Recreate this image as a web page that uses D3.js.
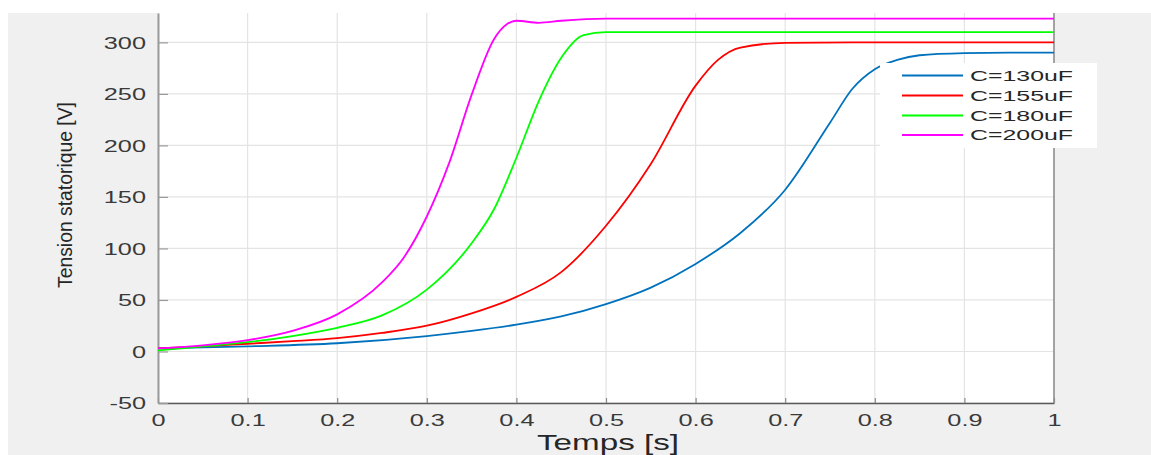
<!DOCTYPE html>
<html>
<head>
<meta charset="utf-8">
<script src="https://cdn.jsdelivr.net/npm/d3@7"></script>
<style>
  html, body { margin: 0; padding: 0; background: #ffffff; }
  svg { display: block; }
  text { font-family: "Liberation Sans", Arial, Helvetica, sans-serif; }
</style>
</head>
<body>
<svg id="chart" width="1151" height="455"></svg>
<script>
// ---------------- DATA ----------------
const seriesNames = ["C=130uF", "C=155uF", "C=180uF", "C=200uF"];
const seriesColors = ["#0072BD", "#FF0000", "#00FF00", "#FF00FF"];

const t130 = [0, 0.1, 0.2, 0.3, 0.35, 0.4, 0.45, 0.5, 0.55, 0.6, 0.65, 0.7, 0.75, 0.775, 0.8, 0.825, 0.85, 0.9, 0.95, 1.0];
const v130 = [3, 5, 8, 15, 20, 26, 34, 46, 62, 85, 115, 157, 222, 255, 274, 283, 287.5, 289.5, 290, 290];

const t155 = [0, 0.05, 0.1, 0.15, 0.2, 0.25, 0.3, 0.35, 0.4, 0.45, 0.5, 0.55, 0.6, 0.625, 0.65, 0.7, 0.8, 1.0];
const v155 = [3, 5, 7.5, 10, 13, 18, 25, 37, 53, 77, 122, 182, 258, 283, 295, 299.5, 300, 300];

const t180 = [0, 0.05, 0.1, 0.15, 0.2, 0.25, 0.3, 0.35, 0.375, 0.4, 0.425, 0.45, 0.475, 0.5, 1.0];
const v180 = [1, 5, 9, 15, 23, 35, 60, 105, 138, 188, 243, 285, 307, 310, 310];

const t200 = [0, 0.05, 0.1, 0.15, 0.2, 0.25, 0.275, 0.3, 0.325, 0.35, 0.375, 0.39, 0.4, 0.425, 0.45, 0.5, 1.0];
const v200 = [3, 6, 11, 20, 36, 67, 92, 131, 183, 249, 303, 318, 321, 319, 321, 323, 323];

const xTickValues = [0, 0.1, 0.2, 0.3, 0.4, 0.5, 0.6, 0.7, 0.8, 0.9, 1];
const yTickValues = [-50, 0, 50, 100, 150, 200, 250, 300];

const xLabel = "Temps [s]";
const yLabel = "Tension statorique [V]";

const allT = [t130, t155, t180, t200];
const allV = [v130, v155, v180, v200];

// ---------------- LAYOUT ----------------
const svg = d3.select("#chart");
const L = 158, R = 1054, T = 13, B = 403;

svg.append("rect").attr("x", 8).attr("y", 13).attr("width", 1151 - 8).attr("height", 455 - 13).attr("fill", "#f0f0f0");
svg.append("rect").attr("x", L).attr("y", T).attr("width", R - L).attr("height", B - T).attr("fill", "#ffffff");

const x = d3.scaleLinear().domain([0, 1]).range([L, R]);
const y = d3.scaleLinear().domain([-50, 328.5]).range([B, T]);

// grid
const grid = svg.append("g");
grid.selectAll("line.gx").data(xTickValues).join("line")
  .attr("x1", d => x(d)).attr("x2", d => x(d)).attr("y1", T).attr("y2", B)
  .attr("stroke", "#e4e4e4").attr("stroke-width", 1.2);
grid.selectAll("line.gy").data(yTickValues).join("line")
  .attr("x1", L).attr("x2", R).attr("y1", d => y(d)).attr("y2", d => y(d))
  .attr("stroke", "#e4e4e4").attr("stroke-width", 1.2);

// axes
const fmtX = d => (d === 0 ? "0" : d === 1 ? "1" : d.toFixed(1));
const fmtY = d => String(d);

const xAxis = svg.append("g").attr("transform", `translate(0,${B})`)
  .call(d3.axisBottom(x).tickValues(xTickValues).tickFormat(fmtX).tickSizeInner(-5).tickSizeOuter(0).tickPadding(0));
const yAxis = svg.append("g").attr("transform", `translate(${L},0)`)
  .call(d3.axisLeft(y).tickValues(yTickValues).tickFormat(fmtY).tickSizeInner(-10).tickSizeOuter(0).tickPadding(12));

xAxis.select(".domain").attr("stroke", "#5a5a5a").attr("stroke-width", 1.5);
yAxis.select(".domain").attr("stroke", "#9a9a9a").attr("stroke-width", 2);
xAxis.selectAll(".tick line").attr("stroke", "#8a8a8a").attr("stroke-width", 1.2);
yAxis.selectAll(".tick line").attr("stroke", "#9a9a9a").attr("stroke-width", 1.2);

xAxis.selectAll(".tick text")
  .attr("font-size", 16).attr("fill", "#3a3a3a").attr("y", 23).attr("dy", null)
  .style("font-family", "'Liberation Sans', Arial, sans-serif");
yAxis.selectAll(".tick text")
  .attr("font-size", 16).attr("fill", "#3a3a3a").attr("dy", "0.36em")
  .style("font-family", "'Liberation Sans', Arial, sans-serif");

function stretch(sel, k) {
  sel.each(function () {
    const w = this.getComputedTextLength();
    d3.select(this).attr("textLength", w * k).attr("lengthAdjust", "spacingAndGlyphs");
  });
}
stretch(xAxis.selectAll(".tick text"), 1.58);
stretch(yAxis.selectAll(".tick text"), 1.58);

// right border
svg.append("line").attr("x1", R).attr("x2", R).attr("y1", T).attr("y2", B)
  .attr("stroke", "#8a8a8a").attr("stroke-width", 1.5);

// series lines
svg.append("clipPath").attr("id", "plotclip")
  .append("rect").attr("x", L).attr("y", T - 2).attr("width", R - L).attr("height", B - T + 2);

const lineGen = d3.line().x(d => x(d[0])).y(d => y(d[1])).curve(d3.curveMonotoneX);
const lines = svg.append("g").attr("clip-path", "url(#plotclip)");
allT.forEach((ts, i) => {
  const pts = ts.map((t, j) => [t, allV[i][j]]);
  lines.append("path").datum(pts)
    .attr("d", lineGen)
    .attr("fill", "none")
    .attr("stroke", seriesColors[i])
    .attr("stroke-width", 1.8)
    .attr("stroke-linejoin", "round");
});

// axis labels
svg.append("text")
  .attr("x", 608).attr("y", 450)
  .attr("text-anchor", "middle")
  .attr("font-size", 22).attr("fill", "#262626")
  .attr("textLength", 142).attr("lengthAdjust", "spacingAndGlyphs")
  .text(xLabel);

svg.append("text")
  .attr("transform", "translate(72,195) rotate(-90)")
  .attr("text-anchor", "middle")
  .attr("font-size", 20).attr("fill", "#262626")
  .attr("textLength", 186).attr("lengthAdjust", "spacingAndGlyphs")
  .text(yLabel);

// legend
const lg = svg.append("g");
lg.append("rect").attr("x", 880).attr("y", 63).attr("width", 217).attr("height", 85)
  .attr("fill", "#ffffff");
const legendY = [75.5, 95.5, 115.5, 135];
seriesNames.forEach((name, i) => {
  lg.append("line").attr("x1", 902).attr("x2", 963).attr("y1", legendY[i]).attr("y2", legendY[i])
    .attr("stroke", seriesColors[i]).attr("stroke-width", 1.8);
  lg.append("text").attr("x", 970).attr("y", legendY[i] + 5)
    .attr("font-size", 14).attr("fill", "#262626")
    .attr("textLength", 103).attr("lengthAdjust", "spacingAndGlyphs")
    .text(name);
});
</script>
</body>
</html>
